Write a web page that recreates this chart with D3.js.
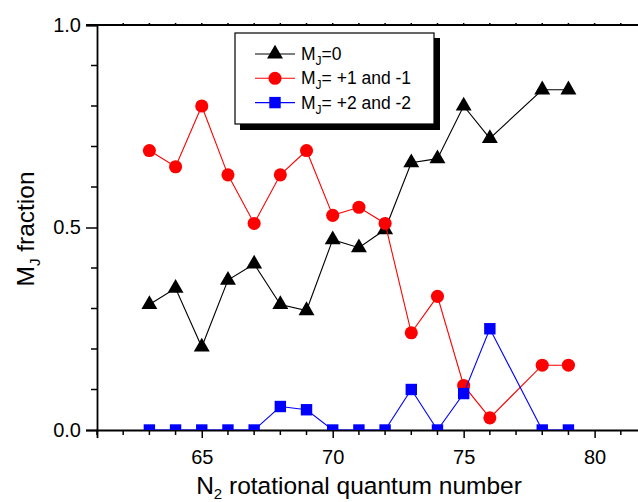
<!DOCTYPE html>
<html>
<head>
<meta charset="utf-8">
<script src="https://cdn.jsdelivr.net/npm/d3@7"></script>
<style>
  body { margin: 0; background: #fff; }
  svg { display: block; font-family: Arial, "Liberation Sans", sans-serif; }
</style>
</head>
<body>
<div id="chart"></div>
<script>
const nValues = [63, 64, 65, 66, 67, 68, 69, 70, 71, 72, 73, 74, 75, 76, 78, 79]
const mj0 = [0.31, 0.35, 0.205, 0.37, 0.41, 0.31, 0.295, 0.47, 0.45, 0.495, 0.66, 0.67, 0.80, 0.72, 0.84, 0.84]
const mj1 = [0.69, 0.65, 0.80, 0.63, 0.51, 0.63, 0.69, 0.53, 0.55, 0.51, 0.24, 0.33, 0.11, 0.03, 0.16, 0.16]
const mj2 = [0, 0, 0, 0, 0, 0.058, 0.05, 0, 0, 0, 0.10, 0, 0.09, 0.25, 0, 0]
const xMajor = [65, 70, 75, 80]
const yMajor = [0, 0.5, 1]

const width = 638, height = 502

const svg = d3.select("#chart").append("svg")
  .attr("width", width)
  .attr("height", height)

const x = d3.scaleLinear().domain([61, 82]).range([97, 647])
const y = d3.scaleLinear().domain([0, 1]).range([430, 25])

svg.append("defs").append("clipPath").attr("id", "plot")
  .append("rect").attr("x", 97).attr("y", 25).attr("width", 560).attr("height", 405)

// axes
const xAxis = svg.append("g").attr("transform", `translate(0,${y(0)})`)
  .call(d3.axisBottom(x).tickValues(xMajor).tickSize(8).tickPadding(12).tickFormat(d3.format("d")))
xAxis.append("g")
  .selectAll("line")
  .data(d3.range(61, 83).filter(v => v % 5 !== 0))
  .join("line")
  .attr("x1", d => x(d)).attr("x2", d => x(d))
  .attr("y1", 0).attr("y2", 5)
  .attr("stroke", "#000").attr("stroke-width", 1.5)

const yAxis = svg.append("g").attr("transform", `translate(${x(61)},0)`)
  .call(d3.axisLeft(y).tickValues(yMajor).tickSize(11).tickPadding(5).tickFormat(d3.format(".1f")))
yAxis.append("g")
  .selectAll("line")
  .data(d3.range(1, 10).map(i => i / 10).filter(v => v !== 0.5))
  .join("line")
  .attr("y1", d => y(d)).attr("y2", d => y(d))
  .attr("x1", 0).attr("x2", -6)
  .attr("stroke", "#000").attr("stroke-width", 1.5)

svg.selectAll(".domain").attr("stroke", "#000").attr("stroke-width", 1.8)
svg.selectAll(".tick line").attr("stroke", "#000").attr("stroke-width", 1.5)
svg.selectAll(".tick text").attr("font-size", 20).attr("fill", "#000")
  .attr("font-family", "Arial, 'Liberation Sans', sans-serif")

// top frame
svg.append("line")
  .attr("x1", 86).attr("x2", width)
  .attr("y1", y(1)).attr("y2", y(1))
  .attr("stroke", "#000").attr("stroke-width", 1.8)
svg.append("g")
  .selectAll("line")
  .data(d3.range(62, 83))
  .join("line")
  .attr("x1", d => x(d)).attr("x2", d => x(d))
  .attr("y1", y(1)).attr("y2", y(1) - 2)
  .attr("stroke", "#000").attr("stroke-width", 1.5)

// series
const series = [
  { values: mj0, color: "#000", shape: "triangle" },
  { values: mj1, color: "#ff0000", shape: "circle" },
  { values: mj2, color: "#0000ff", shape: "square" }
]

const shapes = {
  triangle: d3.symbol(d3.symbolTriangle, 110),
  circle: d3.symbol(d3.symbolCircle, 135),
  square: d3.symbol(d3.symbolSquare, 130)
}

const plot = svg.append("g").attr("clip-path", "url(#plot)")
const line = d3.line().x((d, i) => x(nValues[i])).y(d => y(d))

series.forEach(s => {
  plot.append("path")
    .attr("d", line(s.values))
    .attr("fill", "none")
    .attr("stroke", s.color)
    .attr("stroke-width", 1.1)
  plot.append("g")
    .selectAll("path")
    .data(s.values)
    .join("path")
    .attr("transform", (d, i) => `translate(${x(nValues[i])},${y(d)})`)
    .attr("d", shapes[s.shape])
    .attr("fill", s.color)
})

// axis titles
const xTitle = svg.append("text")
  .attr("x", 359).attr("y", 494)
  .attr("text-anchor", "middle")
  .attr("font-size", 24.5)
xTitle.append("tspan").text("N")
xTitle.append("tspan").attr("font-size", 15).attr("dy", 5).text("2")
xTitle.append("tspan").attr("dy", -5).text(" rotational quantum number")

const yTitle = svg.append("text")
  .attr("transform", "translate(34,229) rotate(-90)")
  .attr("text-anchor", "middle")
  .attr("font-size", 24.5)
yTitle.append("tspan").text("M")
yTitle.append("tspan").attr("font-size", 15).attr("dy", 6).text("J")
yTitle.append("tspan").attr("dy", -6).text(" fraction")

// legend
const legend = svg.append("g")
legend.append("rect")
  .attr("x", 240).attr("y", 38).attr("width", 200).attr("height", 92)
  .attr("fill", "#000")
legend.append("rect")
  .attr("x", 235).attr("y", 33).attr("width", 199).attr("height", 91)
  .attr("fill", "#fff").attr("stroke", "#000").attr("stroke-width", 1.2)

const legendLabels = ["=0", "= +1 and -1", "= +2 and -2"]
series.forEach((s, i) => {
  const ly = 54 + i * 24.3
  legend.append("line")
    .attr("x1", 255).attr("x2", 295).attr("y1", ly).attr("y2", ly)
    .attr("stroke", s.color).attr("stroke-width", 1.1)
  legend.append("path")
    .attr("transform", `translate(275,${ly})`)
    .attr("d", shapes[s.shape])
    .attr("fill", s.color)
  const t = legend.append("text")
    .attr("x", 301).attr("y", ly + 6)
    .attr("font-size", 17.5)
  t.append("tspan").text("M")
  t.append("tspan").attr("font-size", 12).attr("dy", 5).text("J")
  t.append("tspan").attr("dy", -5).text(legendLabels[i])
})
</script>
</body>
</html>
